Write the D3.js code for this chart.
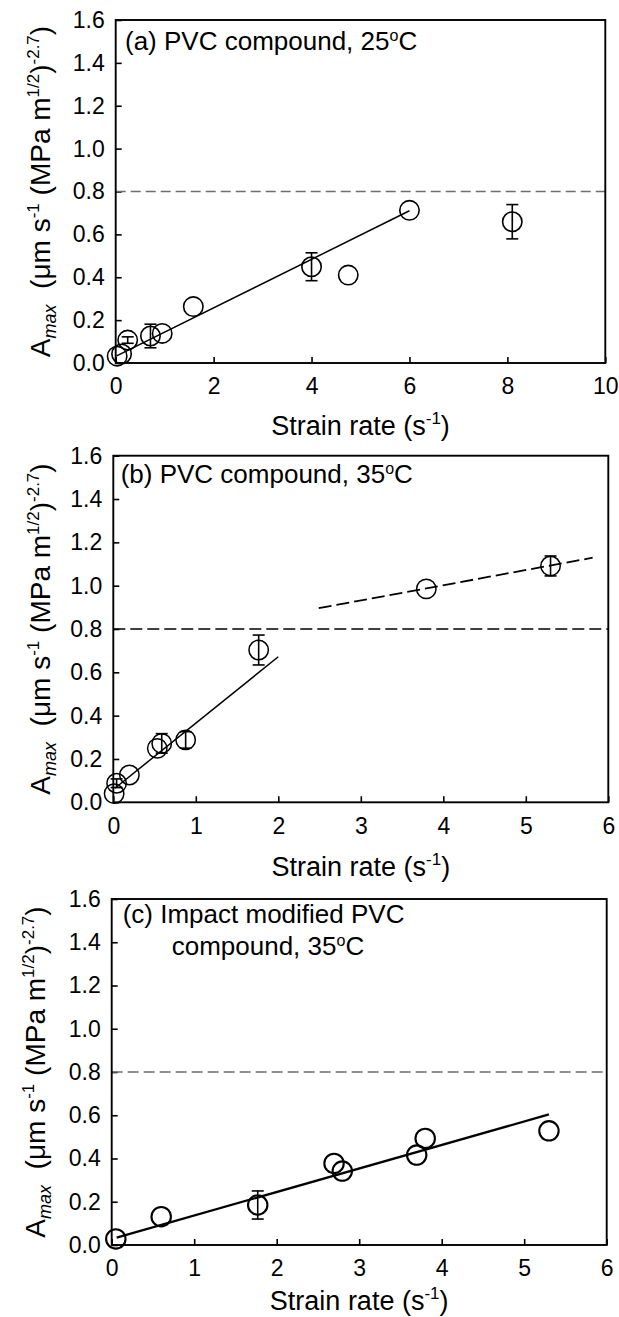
<!DOCTYPE html>
<html>
<head>
<meta charset="utf-8">
<script src="https://cdn.jsdelivr.net/npm/d3@7"></script>
<style>
  body { margin: 0; background: #fff; }
  text { font-family: "Liberation Sans", Arial, Helvetica, sans-serif; }
</style>
</head>
<body>
<svg width="619" height="1317"></svg>
<script>
// shared axis ticks
var yTicks = [0, 0.2, 0.4, 0.6, 0.8, 1.0, 1.2, 1.4, 1.6];
var xTicksA = [0, 2, 4, 6, 8, 10];
var xTicksBC = [0, 1, 2, 3, 4, 5, 6];
var threshold = 0.8;

// (a) PVC compound, 25oC
var rateA = [0.03, 0.12, 0.245, 0.71, 0.95, 1.585, 4.0, 4.75, 6.0, 8.1];
var amaxA = [0.032, 0.042, 0.107, 0.126, 0.138, 0.263, 0.449, 0.41, 0.712, 0.659];
var errA  = [0, 0, 0.015, 0.055, 0, 0, 0.065, 0, 0, 0.08];
var fitAx = [0.02, 6.0];
var fitAy = [0.033, 0.71];

// (b) PVC compound, 35oC
var rateB = [0.01, 0.04, 0.195, 0.533, 0.587, 0.877, 1.762, 3.794, 5.30];
var amaxB = [0.04, 0.088, 0.126, 0.249, 0.272, 0.288, 0.703, 0.985, 1.091];
var errB  = [0, 0.02, 0, 0, 0.045, 0.038, 0.069, 0, 0.046];
var fitBx = [0.02, 2.0];
var fitBy = [0.065, 0.672];
var fitB2x = [2.49, 5.81];
var fitB2y = [0.896, 1.129];

// (c) Impact modified PVC compound, 35oC
var rateC = [0.05, 0.6, 1.77, 2.695, 2.795, 3.697, 3.80, 5.30];
var amaxC = [0.028, 0.131, 0.185, 0.377, 0.342, 0.416, 0.493, 0.528];
var errC  = [0, 0, 0.065, 0, 0, 0, 0, 0];
var fitCx = [0.06, 5.30];
var fitCy = [0.034, 0.604];

// titles: [text, superscript, text]
var titleA = [["(a) PVC compound, 25", "o", "C"]];
var titleB = [["(b) PVC compound, 35", "o", "C"]];
var titleC = [["(c) Impact modified PVC"], ["compound, 35", "o", "C"]];

var svg = d3.select("svg");
svg.append("rect").attr("width", 619).attr("height", 1317).attr("fill", "#fff");

var panels = [
  { x: rateA, y: amaxA, err: errA, xMax: 10, xTicks: xTicksA, title: titleA,
    fits: [{ x: fitAx, y: fitAy, dash: null, w: 1.5 }],
    left: 115.7, right: 605.3, top: 20, bottom: 363,
    titleY: 50, titleX: 125, indent: 0, xTitleDy: 72, yTitleX: 50,
    refColor: "#6e6e6e", refW: 1.6, refDash: "10,5", markW: 1.6 },
  { x: rateB, y: amaxB, err: errB, xMax: 6, xTicks: xTicksBC, title: titleB,
    fits: [{ x: fitBx, y: fitBy, dash: null, w: 1.5 }, { x: fitB2x, y: fitB2y, dash: "13,5", w: 1.8 }],
    left: 113.3, right: 608.3, top: 455.7, bottom: 802.3,
    titleY: 483, titleX: 120.7, indent: 0, xTitleDy: 74, yTitleX: 50,
    refColor: "#000", refW: 1.3, refDash: "12,5", markW: 1.5 },
  { x: rateC, y: amaxC, err: errC, xMax: 6, xTicks: xTicksBC, title: titleC,
    fits: [{ x: fitCx, y: fitCy, dash: null, w: 2.2 }],
    left: 111.7, right: 606.7, top: 899, bottom: 1245,
    titleY: 923, titleX: 122.7, indent: 49, xTitleDy: 65, yTitleX: 45,
    refColor: "#6e6e6e", refW: 1.6, refDash: "11,5", markW: 2.1 }
];

panels.forEach(function(p) {
  var x = d3.scaleLinear().domain([0, p.xMax]).range([p.left, p.right]);
  var y = d3.scaleLinear().domain([0, 1.6]).range([p.bottom, p.top]);
  var g = svg.append("g");

  // axes with inward ticks
  var xa = g.append("g").attr("transform", "translate(0," + p.bottom + ")")
    .call(d3.axisBottom(x).tickValues(p.xTicks).tickSize(-6).tickSizeOuter(0)
      .tickPadding(15).tickFormat(d3.format("d")));
  var ya = g.append("g").attr("transform", "translate(" + p.left + ",0)")
    .call(d3.axisLeft(y).tickValues(yTicks).tickSize(-6).tickSizeOuter(0)
      .tickPadding(11).tickFormat(d3.format(".1f")));
  [xa, ya].forEach(function(a) {
    a.select(".domain").remove();
    a.selectAll(".tick line").attr("stroke", "#000").attr("stroke-width", 1.6);
    a.selectAll(".tick text").attr("font-size", 23).attr("fill", "#000")
      .style("font-family", "'Liberation Sans', Arial, sans-serif");
  });

  // threshold line
  g.append("line")
    .attr("x1", x(0)).attr("x2", x(p.xMax))
    .attr("y1", y(threshold)).attr("y2", y(threshold))
    .attr("stroke", p.refColor).attr("stroke-width", p.refW)
    .attr("stroke-dasharray", p.refDash);

  // fit lines
  p.fits.forEach(function(f) {
    g.append("line")
      .attr("x1", x(f.x[0])).attr("x2", x(f.x[1]))
      .attr("y1", y(f.y[0])).attr("y2", y(f.y[1]))
      .attr("stroke", "#000").attr("stroke-width", f.w)
      .attr("stroke-dasharray", f.dash);
  });

  var pts = p.x.map(function(v, i) { return { x: v, y: p.y[i], e: p.err[i] }; });

  // error bars
  var eb = g.selectAll(".eb").data(pts.filter(function(d) { return d.e > 0; })).enter().append("g");
  eb.append("line")
    .attr("x1", function(d) { return x(d.x); }).attr("x2", function(d) { return x(d.x); })
    .attr("y1", function(d) { return y(d.y - d.e); }).attr("y2", function(d) { return y(d.y + d.e); })
    .attr("stroke", "#000").attr("stroke-width", 1.6);
  [-1, 1].forEach(function(s) {
    eb.append("line")
      .attr("x1", function(d) { return x(d.x) - 6; }).attr("x2", function(d) { return x(d.x) + 6; })
      .attr("y1", function(d) { return y(d.y + s * d.e); }).attr("y2", function(d) { return y(d.y + s * d.e); })
      .attr("stroke", "#000").attr("stroke-width", 1.6);
  });

  // open circles
  g.selectAll(".pt").data(pts).enter().append("circle")
    .attr("cx", function(d) { return x(d.x); })
    .attr("cy", function(d) { return y(d.y); })
    .attr("r", 9.7)
    .attr("fill", "none").attr("stroke", "#000").attr("stroke-width", p.markW);

  // frame
  g.append("rect")
    .attr("x", p.left).attr("y", p.top)
    .attr("width", p.right - p.left).attr("height", p.bottom - p.top)
    .attr("fill", "none").attr("stroke", "#000").attr("stroke-width", 1.9);

  // panel title
  p.title.forEach(function(line, i) {
    var t = g.append("text")
      .attr("x", p.titleX + (i > 0 ? p.indent : 0))
      .attr("y", p.titleY + i * 32)
      .attr("font-size", 26).attr("fill", "#000");
    t.append("tspan").text(line[0]);
    if (line.length > 1) {
      t.append("tspan").attr("font-size", 16).attr("dy", -9).text(line[1]);
      t.append("tspan").attr("dy", 9).text(line[2]);
    }
  });

  // x axis title
  var xt = g.append("text")
    .attr("x", (p.left + p.right) / 2).attr("y", p.bottom + p.xTitleDy)
    .attr("text-anchor", "middle").attr("font-size", 27).attr("fill", "#000");
  xt.append("tspan").text("Strain rate (s");
  xt.append("tspan").attr("font-size", 17).attr("dy", -11).text("-1");
  xt.append("tspan").attr("dy", 11).text(")");

  // y axis title
  var yt = g.append("text")
    .attr("transform", "translate(" + p.yTitleX + "," + ((p.top + p.bottom) / 2) + ") rotate(-90)")
    .attr("text-anchor", "middle").attr("font-size", 28).attr("fill", "#000");
  yt.append("tspan").text("A");
  yt.append("tspan").attr("font-size", 18).attr("font-style", "italic").attr("dy", 6).text("max");
  yt.append("tspan").attr("dy", -6).text("\u00a0 (\u03bcm s");
  yt.append("tspan").attr("font-size", 17).attr("dy", -11).text("-1");
  yt.append("tspan").attr("dy", 11).text(" (MPa m");
  yt.append("tspan").attr("font-size", 17).attr("dy", -11).text("1/2");
  yt.append("tspan").attr("dy", 11).text(")");
  yt.append("tspan").attr("font-size", 17).attr("dy", -11).text("-2.7");
  yt.append("tspan").attr("dy", 11).text(")");
});
</script>
</body>
</html>
